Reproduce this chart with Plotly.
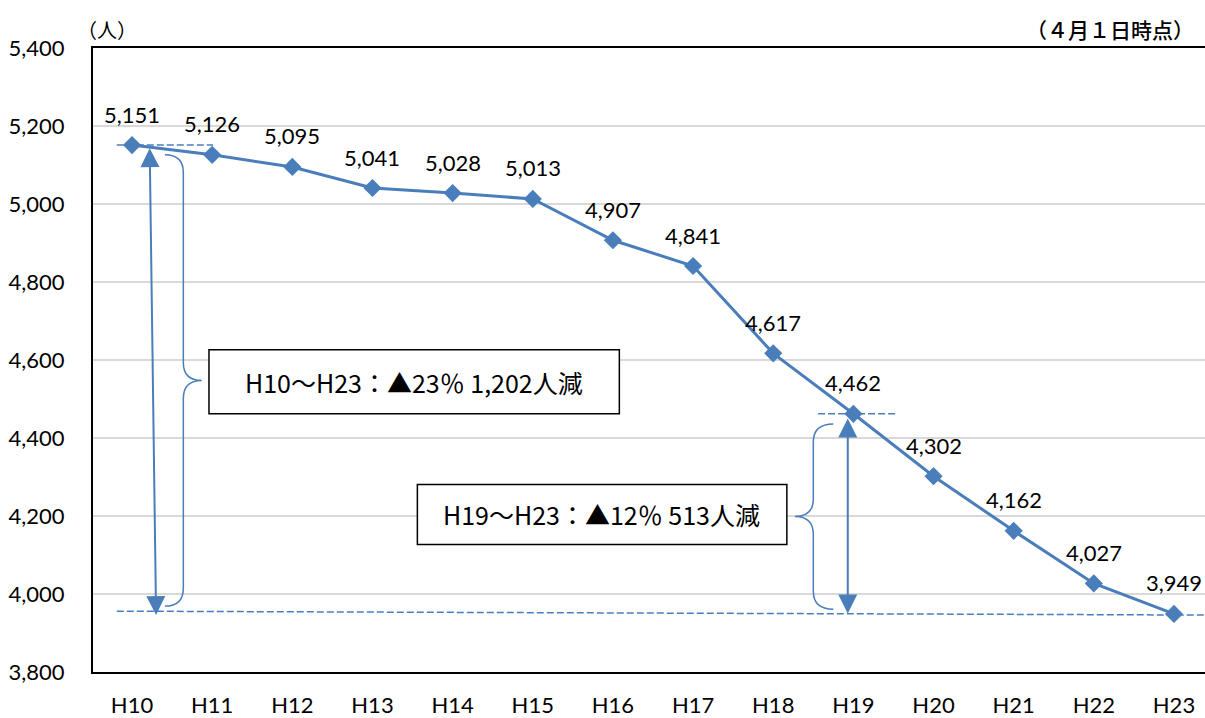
import plotly.graph_objects as go

# 職員数の推移（各年4月1日時点）
years = ["H10", "H11", "H12", "H13", "H14", "H15", "H16",
         "H17", "H18", "H19", "H20", "H21", "H22", "H23"]
staff = [5151, 5126, 5095, 5041, 5028, 5013, 4907,
         4841, 4617, 4462, 4302, 4162, 4027, 3949]
y_ticks = [3800, 4000, 4200, 4400, 4600, 4800, 5000, 5200, 5400]

summary_long = "H10～H23：▲23％ 1,202人減"
summary_short = "H19～H23：▲12％ 513人減"
unit_label = "（人）"
date_label = "（４月１日時点）"

BLUE = "#4A7EBB"
LATIN = "Lato, 'Noto Sans', sans-serif"
CJK = "'Noto Sans CJK JP', sans-serif"

idx = list(range(len(years)))
i19 = years.index("H19")
last = len(years) - 1

fig = go.Figure()
fig.add_trace(go.Scatter(
    x=idx, y=staff, mode="lines+markers",
    line=dict(color=BLUE, width=3),
    marker=dict(symbol="diamond", size=14, color=BLUE),
    hoverinfo="skip", showlegend=False,
))

# 値ラベル
for i, v in zip(idx, staff):
    fig.add_annotation(x=i, y=v, text=f"{v:,}", showarrow=False,
                       yshift=31, font=dict(family=LATIN, size=22, color="#000"))


def brace(x_left, x_mid, x_tip, y_top, y_bot, ry=46):
    y_mid = (y_top + y_bot) / 2
    return (f"M {x_left},{y_top} Q {x_mid},{y_top} {x_mid},{y_top - ry} "
            f"L {x_mid},{y_mid + ry} Q {x_mid},{y_mid} {x_tip},{y_mid} "
            f"Q {x_mid},{y_mid} {x_mid},{y_mid - ry} "
            f"L {x_mid},{y_bot + ry} Q {x_mid},{y_bot} {x_left},{y_bot}")


dash = dict(color=BLUE, width=1.5, dash="7px,3px")
# 基準線（破線）
fig.add_shape(type="line", x0=-0.19, x1=1.01, y0=staff[0], y1=staff[0], line=dash)
fig.add_shape(type="line", x0=-0.19, x1=13.39, y0=staff[last] + 7, y1=staff[last] - 3, line=dash)
fig.add_shape(type="line", x0=8.56, x1=9.54, y0=staff[i19], y1=staff[i19], line=dash)

# 中括弧
fig.add_shape(type="path", path=brace(0.41, 0.64, 0.87, staff[0] - 25, staff[last] + 20),
              line=dict(color=BLUE, width=1.5))
fig.add_shape(type="path", path=brace(8.75, 8.50, 8.27, staff[i19] - 26, staff[last] + 12),
              line=dict(color=BLUE, width=1.5))

# 両矢印
for (xa, ya, xb, yb) in [(0.22, staff[0] - 4, 0.30, staff[last] - 3),
                         (8.93, staff[i19] - 8, 8.93, staff[last] + 1)]:
    fig.add_annotation(x=xb, y=yb, ax=xa, ay=ya, xref="x", yref="y",
                       axref="x", ayref="y", text="", showarrow=True,
                       arrowhead=2, startarrowhead=2, arrowside="end+start",
                       arrowsize=1.9, startarrowsize=1.9, arrowwidth=2,
                       arrowcolor=BLUE, standoff=0, startstandoff=0)

# 説明ボックス
fig.add_shape(type="rect", x0=0.96, x1=6.08, y0=4462, y1=4626,
              line=dict(color="#000", width=1.5), fillcolor="white")
fig.add_annotation(x=3.52, y=4544, text=summary_long, showarrow=False,
                   font=dict(family=CJK, size=25, color="#000"))
fig.add_shape(type="rect", x0=3.56, x1=8.17, y0=4127, y1=4281,
              line=dict(color="#000", width=1.5), fillcolor="white")
fig.add_annotation(x=5.86, y=4204, text=summary_short, showarrow=False,
                   font=dict(family=CJK, size=25, color="#000"))

# 単位・時点
fig.add_annotation(xref="paper", yref="paper", x=0.0126, y=1.030, text=unit_label,
                   xanchor="center", yanchor="middle", showarrow=False,
                   font=dict(family=CJK, size=20, color="#000"))
fig.add_annotation(xref="paper", yref="paper", x=0.9146, y=1.030, text=date_label,
                   xanchor="center", yanchor="middle", showarrow=False,
                   font=dict(family=CJK, size=21, color="#000", weight=500))

fig.update_xaxes(
    range=[-0.487, 13.387], tickvals=idx, ticktext=years,
    showgrid=False, zeroline=False, showline=True, linecolor="#000", linewidth=2,
    mirror=True, ticks="", ticklabelstandoff=13,
    tickfont=dict(family=LATIN, size=22, color="#000"),
)
fig.update_yaxes(
    range=[3800, 5400], tickvals=y_ticks, tickformat=",d",
    showgrid=True, gridcolor="#D9D9D9", gridwidth=1.5, zeroline=False,
    showline=True, linecolor="#000", linewidth=2, mirror=False, ticks="",
    ticklabelstandoff=22,
    tickfont=dict(family=LATIN, size=22, color="#000"),
)
fig.update_layout(
    width=1205, height=718,
    margin=dict(l=93, r=0, t=48, b=44),
    paper_bgcolor="white", plot_bgcolor="white",
    showlegend=False,
)

fig.write_html("out.html")
